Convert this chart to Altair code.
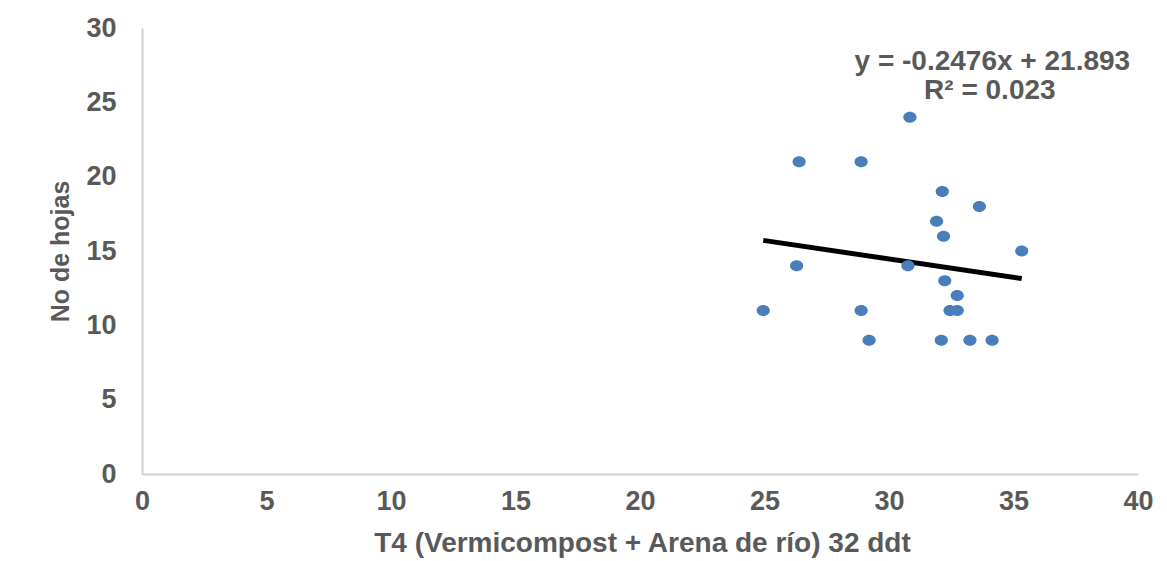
import altair as alt
import pandas as pd

x_vals = [30.84, 26.39, 28.88, 32.14, 33.63, 31.91, 32.19, 35.33, 26.29, 30.76,
          32.24, 32.74, 24.95, 28.88, 32.45, 32.74, 29.20, 32.10, 33.25, 34.14]
y_vals = [24, 21, 21, 19, 18, 17, 16, 15, 14, 14,
          13, 12, 11, 11, 11, 11, 9, 9, 9, 9]

# Printed trendline
slope = -0.2476
intercept = 21.893
eq_lines = ["y = -0.2476x + 21.893", "R² = 0.023"]
eq_x = [34.15, 34.05]
eq_y = [27.7, 25.75]

x_ticks = [0, 5, 10, 15, 20, 25, 30, 35, 40]
y_ticks = [0, 5, 10, 15, 20, 25, 30]

pts = pd.DataFrame({"x": x_vals, "y": y_vals})
xmin, xmax = min(x_vals), max(x_vals)
trend = pd.DataFrame({"x": [xmin, xmax],
                      "y": [slope * xmin + intercept, slope * xmax + intercept]})
eq = pd.DataFrame({"x": eq_x, "y": eq_y, "t": eq_lines})

FONT = "Liberation Sans"
GRAY = "#595959"

xscale = alt.Scale(domain=[0, 40], nice=False, zero=False)
yscale = alt.Scale(domain=[0, 30], nice=False, zero=False)

xaxis = alt.Axis(values=x_ticks, title="T4 (Vermicompost + Arena de río) 32 ddt",
                 grid=False, ticks=False, labelPadding=14, labelFlush=False,
                 titleFontSize=28, titleBaseline="alphabetic", titleY=77, titleX=500)
yaxis = alt.Axis(values=y_ticks, title="No de hojas", grid=False, ticks=False,
                 labelPadding=26, labelFlush=False, titleAngle=270,
                 titleBaseline="alphabetic", titleFontSize=25, titleX=-74)

ellipse = "M-1.2,0 A1.2,1 0 1,0 1.2,0 A1.2,1 0 1,0 -1.2,0 Z"

points = alt.Chart(pts).mark_point(
    shape=ellipse, filled=True, color="#4a7ebb", opacity=1, size=121
).encode(
    x=alt.X("x:Q", scale=xscale, axis=xaxis),
    y=alt.Y("y:Q", scale=yscale, axis=yaxis),
)

line = alt.Chart(trend).mark_line(color="black", strokeWidth=5).encode(
    x=alt.X("x:Q", scale=xscale),
    y=alt.Y("y:Q", scale=yscale),
)

text = alt.Chart(eq).mark_text(
    font=FONT, fontSize=28, fontWeight="bold", color=GRAY,
    align="center", baseline="middle"
).encode(
    x=alt.X("x:Q", scale=xscale),
    y=alt.Y("y:Q", scale=yscale),
    text="t:N",
)

chart = alt.layer(line, points, text).properties(
    width=996, height=446,
    autosize=alt.AutoSizeParams(type="none"),
    padding={"left": 134, "top": 20, "right": 21, "bottom": 85},
    background="white",
).configure_view(stroke=None).configure_axis(
    domainColor="#d0d0d0", domainWidth=2,
    labelFont=FONT, labelFontSize=27, labelFontWeight="bold", labelColor=GRAY,
    titleFont=FONT, titleFontWeight="bold", titleColor=GRAY,
)

chart.save("out.html", embed_options={"renderer": "svg", "actions": False})
